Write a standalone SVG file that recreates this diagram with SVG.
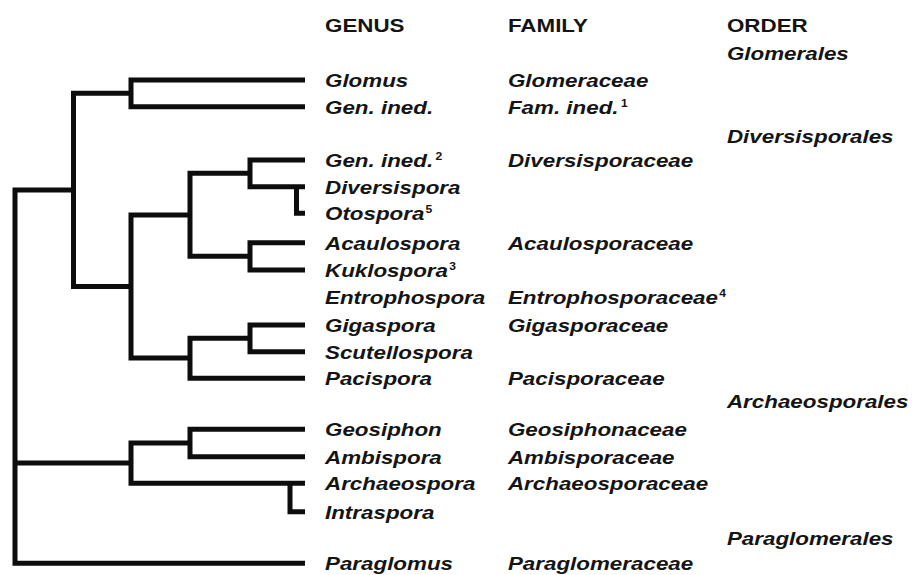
<svg xmlns="http://www.w3.org/2000/svg" width="912" height="575" viewBox="0 0 912 575">
  <style>
    .br { fill: none; stroke: #0d0d0d; stroke-width: 5; stroke-linejoin: miter; stroke-linecap: butt; }
    text { font-family: "Liberation Sans", Arial, sans-serif; font-size: 18.5px; font-weight: bold; fill: #141414; }
    .it { font-style: italic; }
    .sup { font-size: 10px; font-style: normal; }
  </style>
  <rect width="912" height="575" fill="#ffffff"/>
  <g id="connectors">
    <path class="br" d="M305,563.3 H15 V190 H73.5"/>
    <path class="br" d="M15,463 H131"/>
    <path class="br" d="M131,93.3 H73.5 V286.5 H131"/>
    <path class="br" d="M305,80 H131 V106.7 H305"/>
    <path class="br" d="M190,215 H131 V358 H190"/>
    <path class="br" d="M250,173.3 H190 V256.3 H250"/>
    <path class="br" d="M305,160 H250 V186.7 H305"/>
    <path class="br" d="M296.5,186.7 V213.3 H305"/>
    <path class="br" d="M305,242.7 H250 V270 H305"/>
    <path class="br" d="M250,338.3 H190 V378.3 H305"/>
    <path class="br" d="M305,325 H250 V351.7 H305"/>
    <path class="br" d="M190,443 H131 V483.3 H305"/>
    <path class="br" d="M305,429.3 H190 V456.7 H305"/>
    <path class="br" d="M290,483.3 V511.7 H305"/>
  </g>
  <g transform="scale(1.21 1)">
    <g id="headers">
      <text x="268.6" y="32">GENUS</text>
      <text x="419.8" y="32">FAMILY</text>
      <text x="600.8" y="32">ORDER</text>
    </g>
    <g id="order-glomerales"><text class="it" x="600.8" y="60">Glomerales</text></g>
    <g id="order-diversisporales"><text class="it" x="600.8" y="143">Diversisporales</text></g>
    <g id="order-archaeosporales"><text class="it" x="600.8" y="408">Archaeosporales</text></g>
    <g id="order-paraglomerales"><text class="it" x="600.8" y="545">Paraglomerales</text></g>

    <g id="glomus"><text class="it" x="268.6" y="87">Glomus</text><text class="it" x="419.8" y="87">Glomeraceae</text></g>
    <g id="gen-ined-1"><text class="it" x="268.6" y="114">Gen. ined.</text><text class="it" x="419.8" y="114">Fam. ined.<tspan class="sup" dx="2" dy="-7">1</tspan></text></g>
    <g id="gen-ined-2"><text class="it" x="268.6" y="167">Gen. ined.<tspan class="sup" dx="2" dy="-7">2</tspan></text><text class="it" x="419.8" y="167">Diversisporaceae</text></g>
    <g id="diversispora"><text class="it" x="268.6" y="194">Diversispora</text></g>
    <g id="otospora"><text class="it" x="268.6" y="220.5">Otospora<tspan class="sup" dx="1" dy="-7">5</tspan></text></g>
    <g id="acaulospora"><text class="it" x="268.6" y="249.7">Acaulospora</text><text class="it" x="419.8" y="249.7">Acaulosporaceae</text></g>
    <g id="kuklospora"><text class="it" x="268.6" y="277">Kuklospora<tspan class="sup" dx="1" dy="-7">3</tspan></text></g>
    <g id="entrophospora"><text class="it" x="268.6" y="304">Entrophospora</text><text class="it" x="419.8" y="304">Entrophosporaceae<tspan class="sup" dx="1" dy="-7">4</tspan></text></g>
    <g id="gigaspora"><text class="it" x="268.6" y="332">Gigaspora</text><text class="it" x="419.8" y="332">Gigasporaceae</text></g>
    <g id="scutellospora"><text class="it" x="268.6" y="358.7">Scutellospora</text></g>
    <g id="pacispora"><text class="it" x="268.6" y="385.3">Pacispora</text><text class="it" x="419.8" y="385.3">Pacisporaceae</text></g>
    <g id="geosiphon"><text class="it" x="268.6" y="436.3">Geosiphon</text><text class="it" x="419.8" y="436.3">Geosiphonaceae</text></g>
    <g id="ambispora"><text class="it" x="268.6" y="463.7">Ambispora</text><text class="it" x="419.8" y="463.7">Ambisporaceae</text></g>
    <g id="archaeospora"><text class="it" x="268.6" y="490.3">Archaeospora</text><text class="it" x="419.8" y="490.3">Archaeosporaceae</text></g>
    <g id="intraspora"><text class="it" x="268.6" y="518.7">Intraspora</text></g>
    <g id="paraglomus"><text class="it" x="268.6" y="570.3">Paraglomus</text><text class="it" x="419.8" y="570.3">Paraglomeraceae</text></g>
  </g>
</svg>
